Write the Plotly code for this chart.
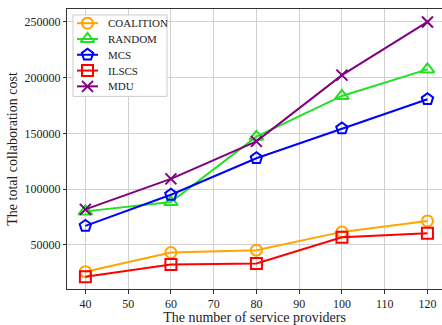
import plotly.graph_objects as go

# Number of service providers (x axis)
providers = [40, 60, 80, 100, 120]

# Total collaboration cost per method
coalition = [25900, 43100, 45200, 61600, 71400]
random_cost = [80000, 88400, 147000, 183600, 207400]
mcs = [67000, 94900, 127700, 154400, 180600]
ilscs = [21400, 32400, 33300, 56800, 60300]
mdu = [81800, 109200, 142800, 202300, 250000]

y_ticks = [50000, 100000, 150000, 200000, 250000]
y_tick_labels = ["50000", "100000", "150000", "200000", "250000"]
x_ticks = [40, 50, 60, 70, 80, 90, 100, 110, 120]

series = [
    ("COALITION", coalition, "#FFA500", "circle-open", 11),
    ("RANDOM", random_cost, "#22E022", "triangle-up-open", 12),
    ("MCS", mcs, "#0000FF", "pentagon-open", 12),
    ("ILSCS", ilscs, "#FF0000", "square-open", 11),
    ("MDU", mdu, "#800080", "x-thin-open", 11),
]

serif = "Liberation Serif, Times New Roman, serif"
fig = go.Figure()
for name, vals, color, symbol, size in series:
    fig.add_trace(go.Scatter(
        x=providers, y=vals, name=name, mode="lines+markers",
        line=dict(color=color, width=2),
        marker=dict(symbol=symbol, size=size, color=color,
                    line=dict(color=color, width=2)),
        showlegend=False,
    ))

# Legend drawn on an overlay axis measured in pixels of the plot area
PLOT_L, PLOT_R, PLOT_T, PLOT_B = 67, 442, 9, 291
box_x = [73, 167, 167, 73, 73]
box_y = [15, 15, 97, 97, 15]
row_y = [23.3, 39.2, 55.1, 71.0, 86.9]
seg_x = [77, 98]
sym_x = 87.5
text_x = 106

fig.add_trace(go.Scatter(
    x=box_x, y=box_y, xaxis="x2", yaxis="y2", mode="lines",
    fill="toself", fillcolor="rgba(255,255,255,0.92)",
    line=dict(color="#cccccc", width=1), showlegend=False, hoverinfo="skip",
))
for (name, vals, color, symbol, size), ry in zip(series, row_y):
    fig.add_trace(go.Scatter(
        x=seg_x, y=[ry, ry], xaxis="x2", yaxis="y2", mode="lines",
        line=dict(color=color, width=2), showlegend=False, hoverinfo="skip",
    ))
    fig.add_trace(go.Scatter(
        x=[sym_x], y=[ry], xaxis="x2", yaxis="y2", mode="markers",
        marker=dict(symbol=symbol, size=size, color=color,
                    line=dict(color=color, width=2)),
        showlegend=False, hoverinfo="skip",
    ))
    fig.add_annotation(x=text_x, y=ry, xref="x2", yref="y2", text=name,
                       showarrow=False, xanchor="left", yanchor="middle",
                       font=dict(family=serif, size=11, color="#222222"))

fig.update_layout(
    width=442, height=325,
    margin=dict(l=PLOT_L, r=442 - PLOT_R, t=PLOT_T, b=325 - PLOT_B),
    paper_bgcolor="white", plot_bgcolor="white",
    font=dict(family=serif, color="#222222", size=12),
    showlegend=False,
    xaxis=dict(
        range=[35.7, 123.4], tickvals=x_ticks,
        showgrid=True, gridcolor="#d0d0d0", gridwidth=1,
        showline=True, linecolor="#333333", linewidth=1, mirror=True,
        ticks="outside", ticklen=4, tickcolor="#333333",
        tickfont=dict(size=12), zeroline=False,
        title=dict(text="The number of service providers", font=dict(size=14), standoff=4),
    ),
    yaxis=dict(
        range=[10350, 261600], tickvals=y_ticks, ticktext=y_tick_labels,
        showgrid=True, gridcolor="#d0d0d0", gridwidth=1,
        showline=True, linecolor="#333333", linewidth=1, mirror=False,
        ticks="outside", ticklen=3, tickcolor="#333333",
        tickfont=dict(size=12), zeroline=False,
        title=dict(text="The total collaboration cost", font=dict(size=14), standoff=3),
    ),
    xaxis2=dict(range=[PLOT_L, PLOT_R], overlaying="x", visible=False,
                fixedrange=True),
    yaxis2=dict(range=[PLOT_B, PLOT_T], overlaying="y", visible=False,
                fixedrange=True),
)

fig.write_html("out.html")
